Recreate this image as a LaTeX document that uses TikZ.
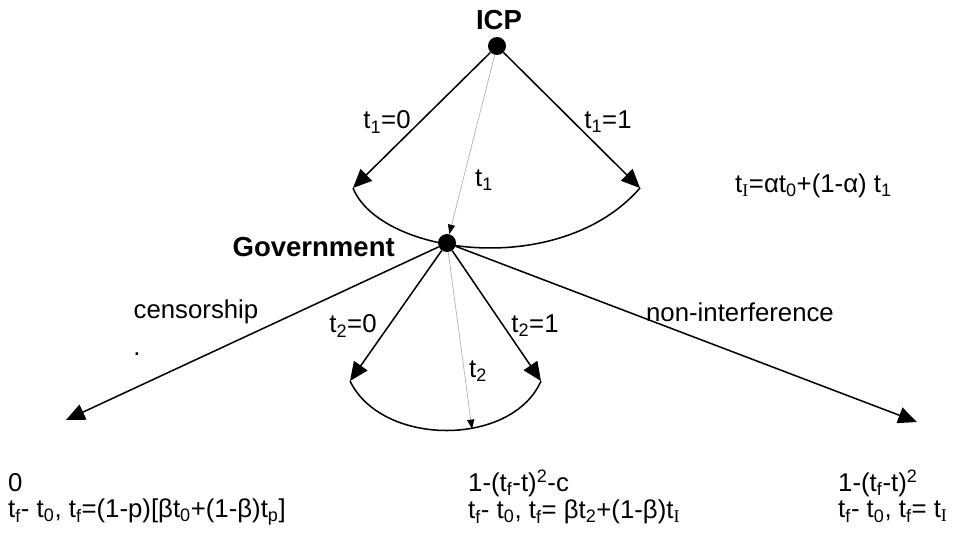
\documentclass[tikz,border=0pt]{standalone}
\usepackage{fontspec}
\setmainfont{Liberation Sans}
\newfontfamily\serifI{Liberation Serif}
\usetikzlibrary{arrows.meta}
\newcommand{\tI}{t\textsubscript{\serifI I}}

\begin{document}
\begin{tikzpicture}[
    x=0.03cm, y=-0.03cm,
    decnode/.style={circle, fill=black, inner sep=0pt, minimum size=0.54cm},
    branch/.style={-{Triangle[length=16pt, width=14pt]}, line width=1.3pt},
    infoset/.style={line width=1.3pt},
    tarrow/.style={-{Triangle[length=8pt, width=6pt, color=black]}, draw=gray!60, line width=0.6pt},
    lbl/.style={font=\fontsize{22}{26}\selectfont, inner sep=0pt},
    player/.style={font=\fontsize{23.5}{28}\selectfont\bfseries, inner sep=0pt}
]
\useasboundingbox (0,0) rectangle (974,536);

% Players
\node[decnode] (icp) at (497,46) {};
\node[decnode] (gov) at (447,243) {};
\node[player] (icplbl) at (499,20) {ICP};
\node[player, anchor=east] (govlbl) at (395,247) {Government};

% Branch ends
\coordinate (a0) at (353,188);
\coordinate (a1) at (640,188);
\coordinate (b0) at (350,381);
\coordinate (b1) at (541,381);
\coordinate (cens) at (66,420);
\coordinate (nonint) at (917,422);
\coordinate (t2end) at (472,429);

% ICP moves
\draw[branch] (icp) -- (a0);
\draw[branch] (icp) -- (a1);
\draw[infoset] (a0) .. controls (380,255) and (560,280) .. (a1);
\draw[tarrow] (icp) -- (gov);

% Government moves
\draw[branch] (gov) -- (cens);
\draw[branch] (gov) -- (nonint);
\draw[branch] (gov) -- (b0);
\draw[branch] (gov) -- (b1);
\draw[infoset] (b0) .. controls (382,447) and (512,447) .. (b1);
\draw[tarrow] (gov) -- (t2end);

% Labels
\node[lbl] (l10) at (387,122) {t\textsubscript{1}=0};
\node[lbl] (l11) at (608,122) {t\textsubscript{1}=1};
\node[lbl] (l1) at (484,180) {t\textsubscript{1}};
\node[lbl, anchor=west] (ti) at (735,186) {\tI=αt\textsubscript{0}+(1-α) t\textsubscript{1}};
\node[lbl] (lcens) at (196,312) {censorship};
\node[lbl] (ldot) at (137,354) {.};
\node[lbl] (lnon) at (740,312) {non-interference};
\node[lbl] (l20) at (353,326) {t\textsubscript{2}=0};
\node[lbl] (l21) at (535,326) {t\textsubscript{2}=1};
\node[lbl] (l2) at (478,371) {t\textsubscript{2}};

% Payoffs
\node[lbl, anchor=west] (p1a) at (8,483) {0};
\node[lbl, anchor=west] (p1b) at (8,512) {t\textsubscript{f}- t\textsubscript{0}, t\textsubscript{f}=(1-p)[βt\textsubscript{0}+(1-β)t\textsubscript{p}]};
\node[lbl, anchor=west] (p2a) at (468,483) {1-(t\textsubscript{f}-t)\textsuperscript{2}-c};
\node[lbl, anchor=west] (p2b) at (468,512) {t\textsubscript{f}- t\textsubscript{0}, t\textsubscript{f}= βt\textsubscript{2}+(1-β)\tI};
\node[lbl, anchor=west] (p3a) at (838,483) {1-(t\textsubscript{f}-t)\textsuperscript{2}};
\node[lbl, anchor=west] (p3b) at (838,512) {t\textsubscript{f}- t\textsubscript{0}, t\textsubscript{f}= \tI};

\end{tikzpicture}
\end{document}
